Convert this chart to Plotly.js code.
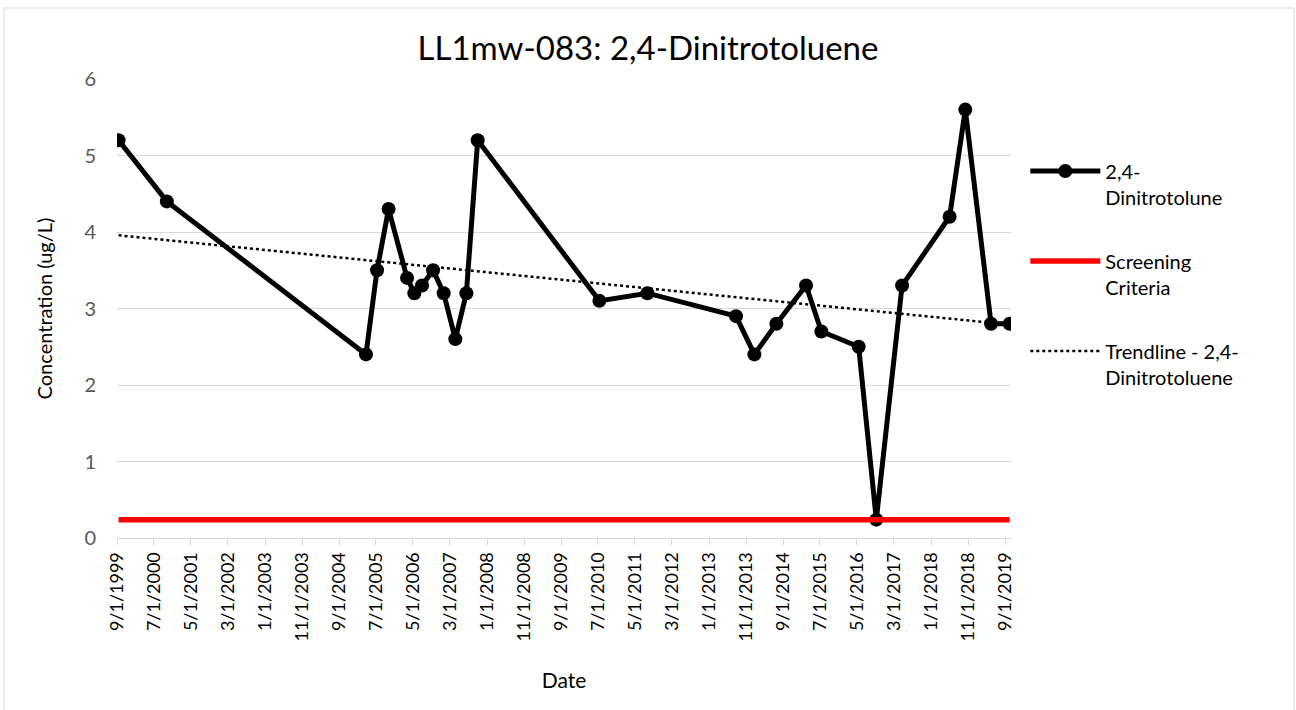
<!DOCTYPE html>
<html>
<head>
<meta charset="utf-8">
<script src="https://cdn.plot.ly/plotly-3.0.1.min.js"></script>
<style>html,body{margin:0;padding:0;background:#fff;}#chart{width:1296px;height:710px;}</style>
</head>
<body>
<div id="chart"></div>
<script>
const sampleDates = ["1999-09-14","2000-10-15","2005-04-10","2005-07-10","2005-10-13","2006-03-14","2006-05-13","2006-07-15","2006-10-14","2007-01-09","2007-04-15","2007-07-15","2007-10-16","2010-07-13","2011-08-12","2013-08-10","2014-01-08","2014-07-08","2015-03-09","2015-07-13","2016-05-15","2016-10-07","2017-05-07","2018-06-02","2018-10-09","2019-05-09","2019-10-09"];
const dntValues = [5.2,4.4,2.4,3.5,4.3,3.4,3.2,3.3,3.5,3.2,2.6,3.2,5.2,3.1,3.2,2.9,2.4,2.8,3.3,2.7,2.5,0.24,3.3,4.2,5.6,2.8,2.8];
const screeningValue = 0.24;
const tickDates = ["1999-09-01","2000-07-01","2001-05-01","2002-03-01","2003-01-01","2003-11-01","2004-09-01","2005-07-01","2006-05-01","2007-03-01","2008-01-01","2008-11-01","2009-09-01","2010-07-01","2011-05-01","2012-03-01","2013-01-01","2013-11-01","2014-09-01","2015-07-01","2016-05-01","2017-03-01","2018-01-01","2018-11-01","2019-09-01"];
const tickLabels = ["9/1/1999","7/1/2000","5/1/2001","3/1/2002","1/1/2003","11/1/2003","9/1/2004","7/1/2005","5/1/2006","3/1/2007","1/1/2008","11/1/2008","9/1/2009","7/1/2010","5/1/2011","3/1/2012","1/1/2013","11/1/2013","9/1/2014","7/1/2015","5/1/2016","3/1/2017","1/1/2018","11/1/2018","9/1/2019"];

// linear trendline (least squares over time)
const t = sampleDates.map(d => new Date(d + "T00:00:00Z").getTime());
const n = t.length;
const mt = t.reduce((a,b)=>a+b,0)/n, my = dntValues.reduce((a,b)=>a+b,0)/n;
let sxy=0, sxx=0;
for (let i=0;i<n;i++){ sxy += (t[i]-mt)*(dntValues[i]-my); sxx += (t[i]-mt)*(t[i]-mt); }
const slope = sxy/sxx, icpt = my - slope*mt;
const trendX = [sampleDates[0], sampleDates[n-1]];
const trendY = [t[0], t[n-1]].map(v => icpt + slope*v);

const FONT = "Lato, 'Open Sans', sans-serif";
const traces = [
  {x: sampleDates, y: dntValues, type:"scatter", mode:"lines+markers", name:"2,4-<br>Dinitrotolune", legendgroup:"a",
   line:{color:"#000", width:5}, marker:{color:"#000", size:14}},
  {x: sampleDates, y: sampleDates.map(()=>screeningValue), type:"scatter", mode:"lines", name:"Screening<br>Criteria", legendgroup:"b",
   line:{color:"#ff0000", width:5.5}},
  {x: trendX, y: trendY, type:"scatter", mode:"lines", name:"Trendline - 2,4-<br>Dinitrotoluene", legendgroup:"c",
   line:{color:"#000", width:2.5, dash:"dot"}}
];
const layout = {
  width:1296, height:710,
  margin:{l:117, r:285, t:79, b:172},
  paper_bgcolor:"#fff", plot_bgcolor:"#fff",
  font:{family:FONT, color:"#595959", size:18},
  title:{text:"LL1mw-083: 2,4-Dinitrotoluene", font:{family:FONT, size:33, color:"#000"}, x:0.5, xanchor:"center", y:0.932, yanchor:"middle"},
  xaxis:{type:"date", range:["1999-09-01","2019-10-20"], tickvals:tickDates, ticktext:tickLabels, tickangle:-90,
    showgrid:false, showline:true, linecolor:"#d9d9d9", linewidth:1, ticks:"outside", ticklen:6, tickcolor:"#d9d9d9",
    tickfont:{family:FONT, size:18, color:"#000"}, zeroline:false,
    title:{text:"Date", font:{family:FONT, size:21, color:"#000"}, standoff:32}},
  yaxis:{range:[0,6], dtick:1, showgrid:true, gridcolor:"#d9d9d9", gridwidth:1, zeroline:false, showline:false,
    ticks:"", ticklabelstandoff:20, tickfont:{family:FONT, size:20, color:"#595959"},
    title:{text:"Concentration (ug/L)", font:{family:FONT, size:20, color:"#000"}, standoff:26}},
  showlegend:true,
  legend:{x:1.016, xanchor:"left", y:0.842, yanchor:"top", valign:"top", font:{family:FONT, size:20, color:"#000"},
    tracegroupgap:35, itemwidth:70, bgcolor:"rgba(0,0,0,0)"},
  shapes:[{type:"rect", xref:"paper", yref:"paper", x0:-0.1264, x1:1.3166, y0:-0.7, y1:1.1547,
    line:{color:"#d9d9d9", width:1}, fillcolor:"rgba(0,0,0,0)", layer:"below"}]
};
Plotly.newPlot("chart", traces, layout, {displayModeBar:false, staticPlot:true});
</script>
</body>
</html>
